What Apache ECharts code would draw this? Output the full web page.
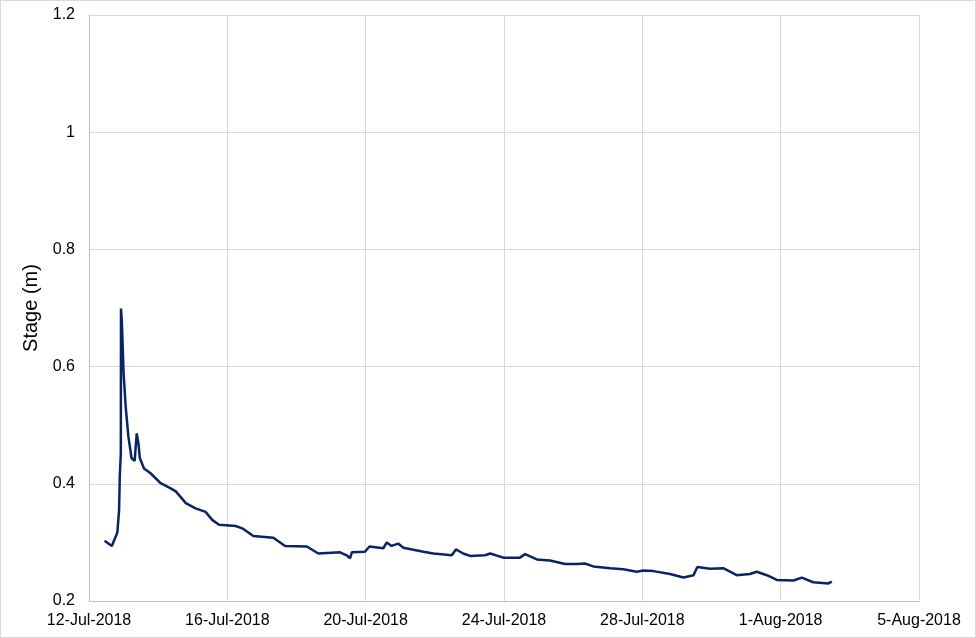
<!DOCTYPE html>
<html>
<head>
<meta charset="utf-8">
<script src="https://cdn.jsdelivr.net/npm/echarts@6/dist/echarts.min.js"></script>
<style>
html,body{margin:0;padding:0;background:#fff;}
#c{width:976px;height:638px;box-sizing:border-box;border:1px solid #d9d9d9;}
</style>
</head>
<body>
<div id="c"></div>
<script>
// Days since 12-Jul-2018 00:00
const days = [0.45,0.66,0.82,0.87,0.89,0.92,0.925,0.95,1.0,1.06,1.14,1.23,1.32,1.38,1.43,1.47,1.59,1.78,2.07,2.31,2.51,2.80,3.08,3.37,3.57,3.76,4.24,4.43,4.63,4.75,5.33,5.67,6.30,6.63,7.26,7.45,7.55,7.60,7.98,8.11,8.51,8.61,8.75,8.94,9.09,9.67,9.96,10.49,10.61,10.82,11.02,11.45,11.60,11.98,12.46,12.61,12.95,13.33,13.77,14.10,14.34,14.58,15.07,15.45,15.84,16.03,16.32,16.80,17.19,17.48,17.59,17.96,18.34,18.73,19.11,19.31,19.60,19.89,20.37,20.61,20.94,21.38,21.48];
const stage = [0.303,0.294,0.317,0.355,0.412,0.452,0.699,0.677,0.589,0.532,0.480,0.444,0.439,0.486,0.469,0.444,0.426,0.418,0.401,0.394,0.387,0.367,0.358,0.352,0.338,0.330,0.328,0.324,0.316,0.311,0.308,0.294,0.293,0.281,0.283,0.278,0.273,0.283,0.284,0.293,0.290,0.300,0.294,0.298,0.291,0.284,0.281,0.278,0.288,0.281,0.277,0.278,0.281,0.274,0.274,0.280,0.271,0.269,0.263,0.263,0.264,0.259,0.256,0.254,0.250,0.252,0.251,0.246,0.240,0.244,0.258,0.255,0.256,0.244,0.246,0.250,0.244,0.236,0.235,0.240,0.232,0.230,0.233];
const xTickLabels = ['12-Jul-2018','16-Jul-2018','20-Jul-2018','24-Jul-2018','28-Jul-2018','1-Aug-2018','5-Aug-2018'];
const yTicks = [0.2,0.4,0.6,0.8,1,1.2];

const chart = echarts.init(document.getElementById('c'), null, {renderer:'canvas'});
chart.setOption({
  animation:false,
  grid:{left:88,top:14,right:56,bottom:36,containLabel:false},
  xAxis:{
    type:'value',min:0,max:24,interval:4,
    axisLine:{show:true,lineStyle:{color:'#bfbfbf',width:1}},
    axisTick:{show:false},
    splitLine:{show:true,lineStyle:{color:'#d9d9d9',width:1}},
    axisLabel:{
      color:'#000',fontFamily:'Liberation Sans, Arial',fontSize:16,margin:12,
      formatter:function(v){return xTickLabels[Math.round(v/4)];}
    }
  },
  yAxis:{
    type:'value',min:0.2,max:1.2,interval:0.2,
    name:'Stage (m)',nameLocation:'middle',nameGap:46,
    nameTextStyle:{color:'#000',fontFamily:'Liberation Sans, Arial',fontSize:20},
    axisLine:{show:true,lineStyle:{color:'#bfbfbf',width:1}},
    axisTick:{show:false},
    splitLine:{show:true,lineStyle:{color:'#d9d9d9',width:1}},
    axisLabel:{
      color:'#000',fontFamily:'Liberation Sans, Arial',fontSize:16,margin:14,
      formatter:function(v){return String(parseFloat(v.toFixed(1)));}
    }
  },
  series:[{
    type:'line',
    data:days.map((d,i)=>[d,stage[i]]),
    showSymbol:false,
    lineStyle:{color:'#0a2463',width:2.5},
    itemStyle:{color:'#0a2463'}
  }]
});
</script>
</body>
</html>
